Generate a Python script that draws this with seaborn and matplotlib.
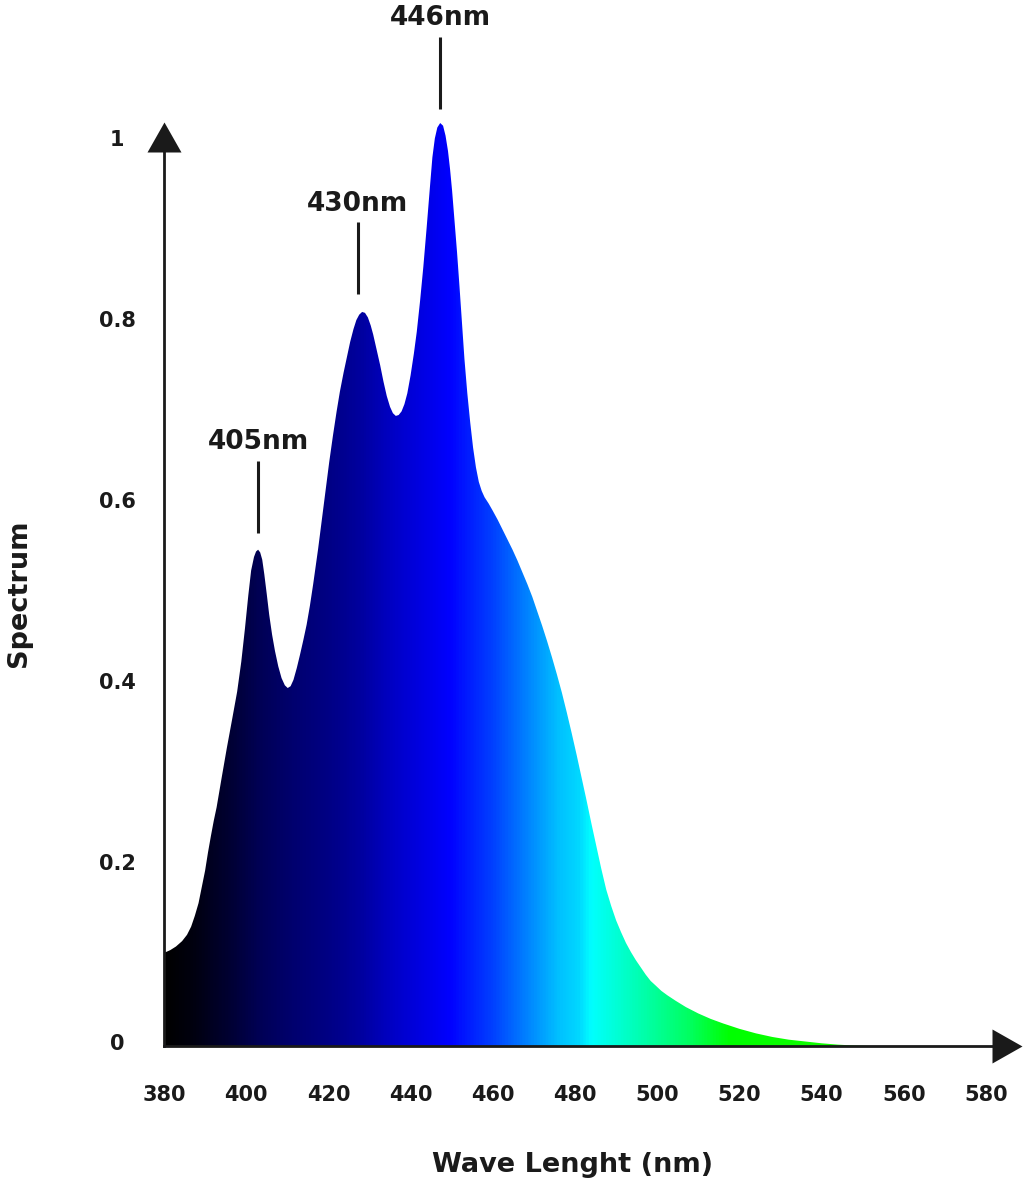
import numpy as np
import matplotlib
matplotlib.use("Agg")
import matplotlib.pyplot as plt
import matplotlib.transforms as mtransforms
from matplotlib.colors import LinearSegmentedColormap
from matplotlib.patches import Polygon
import seaborn as sns

# ---------------- data ----------------
wavelength = [380.0, 381.5, 382.9, 384.4, 385.6, 386.6, 387.5, 388.4, 389.2, 390.0,
              390.7, 391.4, 392.1, 392.8, 394.0, 395.3, 396.6, 397.8, 398.8, 399.7,
              400.5, 401.2, 401.9, 402.4, 402.9, 403.4, 403.9, 404.4, 405.0, 405.6,
              406.3, 407.0, 407.8, 408.6, 409.4, 410.1, 410.8, 411.5, 412.3, 413.1,
              413.9, 414.7, 415.5, 416.3, 417.5, 418.4, 419.3, 420.2, 421.1, 422.0,
              422.8, 423.7, 424.5, 425.3, 426.1, 426.8, 427.5, 428.2, 428.9, 429.6,
              430.3, 430.9, 431.7, 432.6, 433.4, 434.2, 435.0, 435.7, 436.4, 437.1,
              437.8, 438.5, 439.2, 440.0, 440.8, 441.5, 442.3, 443.1, 443.9, 444.7,
              445.3, 445.9, 446.5, 447.2, 447.9, 448.5, 449.1, 449.6, 450.1, 450.7,
              451.3, 451.9, 452.5, 453.1, 453.8, 454.5, 455.2, 455.9, 456.6, 457.3,
              458.0, 459.0, 460.0, 461.2, 462.4, 463.6, 464.8, 466.0, 467.2, 468.4,
              469.6, 470.8, 472.0, 473.2, 474.4, 475.6, 476.8, 478.0, 479.2, 480.4,
              481.6, 482.8, 484.0, 485.2, 486.4, 487.6, 488.8, 490.0, 491.2, 492.4,
              493.6, 494.8, 496.0, 497.2, 498.4, 499.6, 501.0, 502.5, 504.5, 507.0,
              510.0, 513.0, 516.0, 520.0, 524.0, 528.0, 532.0, 536.0, 540.0, 544.0,
              548.0, 552.0]
spectrum = [0.103, 0.106, 0.110, 0.116, 0.123, 0.132, 0.144, 0.158, 0.176, 0.194,
            0.214, 0.232, 0.249, 0.264, 0.296, 0.330, 0.362, 0.392, 0.425, 0.462,
            0.498, 0.526, 0.541, 0.547, 0.549, 0.546, 0.538, 0.522, 0.500, 0.477,
            0.455, 0.437, 0.420, 0.407, 0.399, 0.396, 0.398, 0.405, 0.418, 0.433,
            0.449, 0.466, 0.487, 0.511, 0.550, 0.582, 0.614, 0.646, 0.675, 0.702,
            0.724, 0.745, 0.762, 0.779, 0.793, 0.803, 0.809, 0.812, 0.811, 0.806,
            0.797, 0.787, 0.771, 0.753, 0.735, 0.719, 0.707, 0.700, 0.697, 0.698,
            0.702, 0.710, 0.722, 0.742, 0.766, 0.790, 0.824, 0.862, 0.905, 0.950,
            0.983, 1.004, 1.016, 1.021, 1.018, 1.007, 0.990, 0.970, 0.946, 0.912,
            0.878, 0.840, 0.800, 0.760, 0.722, 0.690, 0.662, 0.640, 0.624, 0.614,
            0.607, 0.600, 0.592, 0.582, 0.571, 0.560, 0.549, 0.537, 0.524, 0.511,
            0.497, 0.481, 0.465, 0.448, 0.430, 0.411, 0.391, 0.369, 0.346, 0.322,
            0.297, 0.272, 0.246, 0.221, 0.196, 0.173, 0.155, 0.139, 0.126, 0.114,
            0.104, 0.095, 0.087, 0.079, 0.072, 0.067, 0.061, 0.056, 0.050, 0.043,
            0.036, 0.030, 0.025, 0.019, 0.014, 0.010, 0.007, 0.005, 0.003, 0.0015,
            0.0005, 0.000]

x_ticks = [380, 400, 420, 440, 460, 480, 500, 520, 540, 560, 580]
y_ticks = [0, 0.2, 0.4, 0.6, 0.8, 1.0]
y_tick_labels = ["0", "0.2", "0.4", "0.6", "0.8", "1"]

peak_labels = ["405nm", "430nm", "446nm"]
peak_x = [402.9, 427.1, 447.2]
peak_line_bottom = [0.567, 0.832, 1.037]
peak_line_top = [0.647, 0.911, 1.116]
peak_text_y = [0.660, 0.924, 1.129]

# colour gradient stops along the wavelength axis
grad_nm = [380, 387, 395, 403, 411, 420, 428, 436, 444, 449.5, 452, 460, 468,
           476, 481, 484, 496, 508, 518, 560]
grad_colors = ["#000000", "#000010", "#000030", "#000055", "#00006e", "#000085",
               "#0000a0", "#0000c8", "#0000e8", "#0000ff", "#0010ff", "#0040ff",
               "#0080ff", "#00c0ff", "#00d8ff", "#00ffff", "#00ffb0", "#00ff60",
               "#00ff00", "#20ff00"]

# ---------------- figure ----------------
sns.set_theme(style="white")
plt.rcParams["font.family"] = ["DejaVu Sans"]
INK = "#1a1a1a"

fig = plt.figure(figsize=(10.24, 11.85), dpi=100, facecolor="white")
ax = fig.add_axes([164 / 1024, 1 - 1046 / 1185, 831 / 1024, 1046 / 1185])
ax.set_facecolor("white")

x_min, x_max = 380, 380 + 831 / 4.11
y_min, y_max = 0, 1046 / 904

# the spectrum curve through seaborn (no visible stroke; the fill carries it)
sns.lineplot(x=wavelength, y=spectrum, ax=ax, linewidth=0, color="#0000ff")

# gradient fill clipped to the area under the curve
lo, hi = grad_nm[0], grad_nm[-1]
cmap = LinearSegmentedColormap.from_list(
    "spec", [((v - lo) / (hi - lo), c) for v, c in zip(grad_nm, grad_colors)])
xs = np.linspace(lo, hi, 1200)
im = ax.imshow(((xs - lo) / (hi - lo))[np.newaxis, :], extent=[lo, hi, y_min, y_max],
               aspect="auto", cmap=cmap, vmin=0, vmax=1, origin="lower",
               interpolation="bilinear", zorder=1)
verts = list(zip(wavelength, spectrum)) + [(wavelength[-1], 0), (wavelength[0], 0)]
clip = Polygon(verts, closed=True, facecolor="none", edgecolor="none",
               transform=ax.transData)
ax.add_patch(clip)
im.set_clip_path(clip)

ax.set_xlim(x_min, x_max)
ax.set_ylim(y_min, y_max)

# axes styling
for s in ["top", "right"]:
    ax.spines[s].set_visible(False)
for s in ["left", "bottom"]:
    ax.spines[s].set_color(INK)
    ax.spines[s].set_linewidth(2.0)
    ax.spines[s].set_zorder(3)
y_spine_top = (1046 - 152) / 904
ax.spines["left"].set_bounds(0, y_spine_top)

# arrow heads
ax.plot([x_min], [y_spine_top], ls="", marker=[(0, 30), (-17, 0), (17, 0), (0, 30)],
        ms=43.2, color=INK, mew=0, clip_on=False, zorder=4)
ax.plot([x_max - 0.7], [0], ls="", marker=[(0, 17), (30, 0), (0, -17), (0, 17)],
        ms=43.2, color=INK, mew=0, clip_on=False, zorder=4)

# ticks
ax.set_xticks(x_ticks)
ax.set_xticklabels([str(t) for t in x_ticks])
ax.set_yticks(y_ticks)
ax.set_yticklabels(y_tick_labels)
ax.tick_params(axis="x", length=0, pad=28, labelsize=15, labelcolor=INK)
ax.tick_params(axis="y", length=0, pad=33.8, labelsize=15, labelcolor=INK)
for lbl in ax.get_xticklabels() + ax.get_yticklabels():
    lbl.set_fontweight("bold")
offset = mtransforms.ScaledTranslation(0, 3.5 / 100, fig.dpi_scale_trans)
for lbl in ax.get_yticklabels():
    lbl.set_horizontalalignment("center")
    lbl.set_transform(lbl.get_transform() + offset)
ax.grid(False)

# axis labels
ax.set_xlabel("Wave Lenght (nm)", fontsize=19.5, fontweight="bold", color=INK)
ax.set_ylabel("Spectrum", fontsize=19.5, fontweight="bold", color=INK)
ax.xaxis.set_label_coords((573 - 164) / 831, (1046 - 1152) / 1046)
ax.yaxis.set_label_coords((31.5 - 164) / 831, (1046 - 593) / 1046)

# peak annotations
ax.vlines(peak_x, peak_line_bottom, peak_line_top, color=INK, linewidth=2.2,
          zorder=4, clip_on=False)
for xp, yt, lab in zip(peak_x, peak_text_y, peak_labels):
    ax.text(xp, yt, lab, ha="center", va="baseline", fontsize=19,
            fontweight="bold", color=INK, clip_on=False)

fig.savefig("out.png", dpi=100, facecolor="white")
